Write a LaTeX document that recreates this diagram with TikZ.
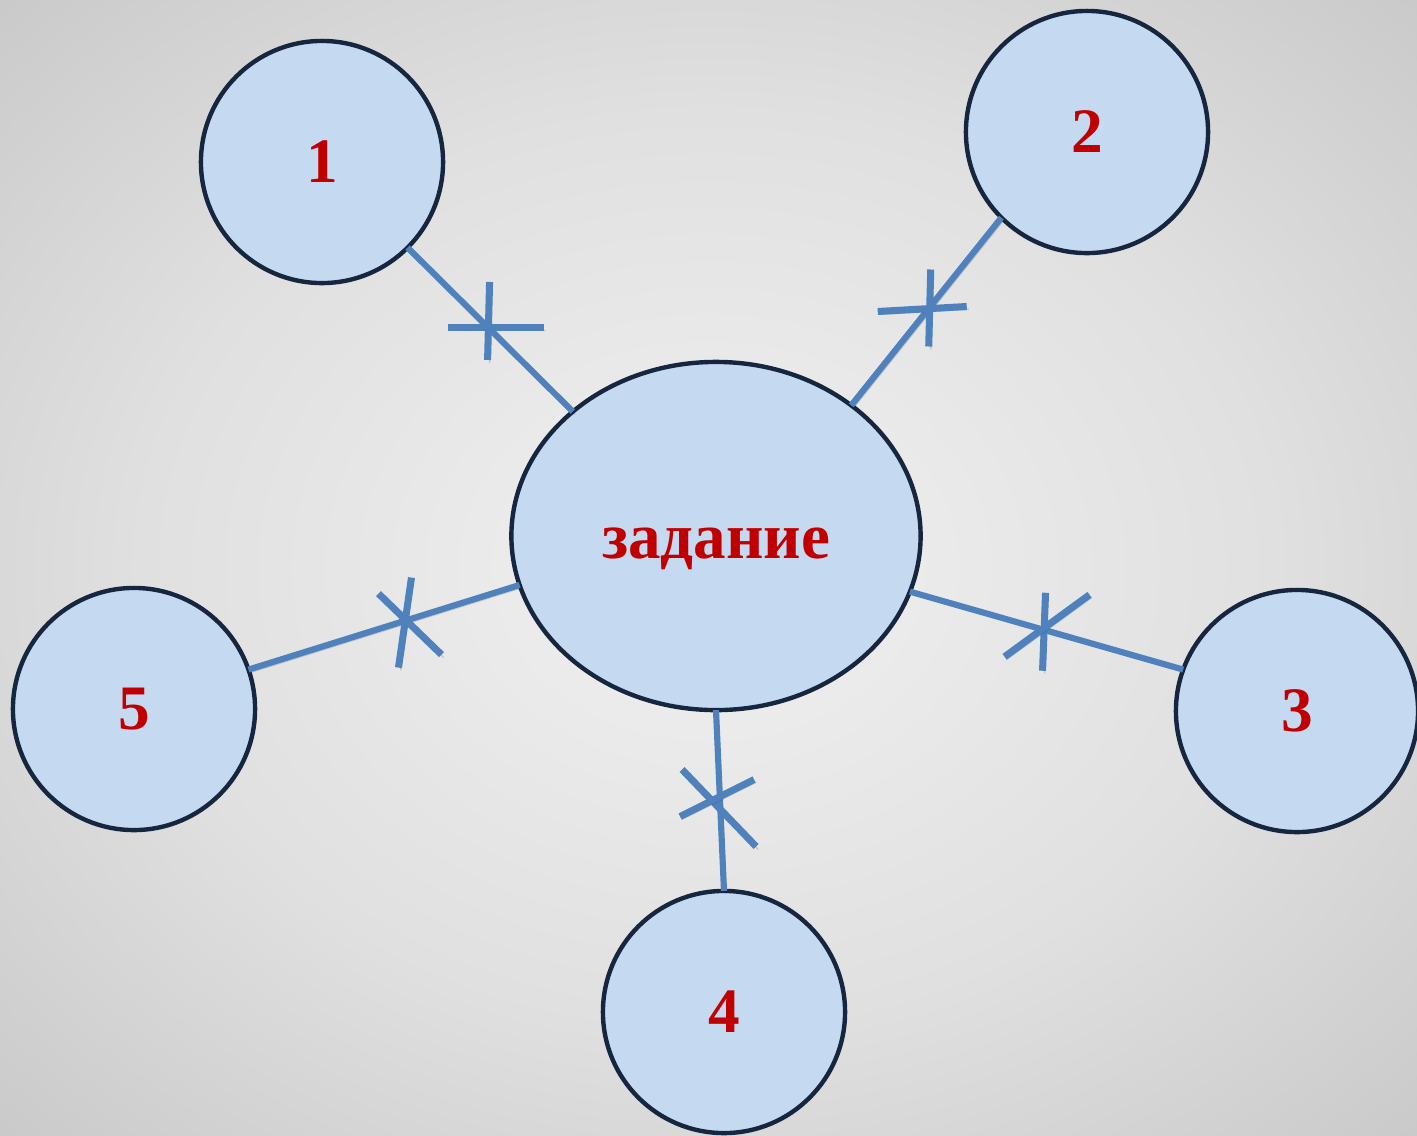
\documentclass[tikz,border=0pt]{standalone}
\usepackage{fontspec}
\setmainfont{Liberation Serif}
\usetikzlibrary{shapes.geometric}
\definecolor{bginner}{HTML}{F1F1F1}
\definecolor{bgmid}{HTML}{E0E0E0}
\definecolor{bgedge}{HTML}{C6C6C6}
\definecolor{bgcorner}{HTML}{B4B4B4}
\definecolor{bubblefill}{HTML}{C5D9F1}
\definecolor{bubbleline}{HTML}{17263F}
\definecolor{linkblue}{HTML}{4F81BD}
\definecolor{labelred}{HTML}{C00000}
\pgfdeclareradialshading{bgglow}{\pgfpoint{0bp}{0bp}}{%
  color(0bp)=(bginner); color(20bp)=(bgmid); color(38bp)=(bgedge); color(50bp)=(bgcorner); color(72bp)=(bgcorner)}

\begin{document}
\begin{tikzpicture}[x=0.01cm,y=-0.01cm,
  bubble/.style={circle,draw=bubbleline,fill=bubblefill,line width=1.25pt,
    minimum size=2.42cm,inner sep=0pt,outer sep=0pt,
    text=labelred,font=\fontsize{18}{20}\selectfont\bfseries},
  task/.style={ellipse,draw=bubbleline,fill=bubblefill,line width=1.25pt,
    minimum width=4.09cm,minimum height=3.48cm,inner sep=0pt,outer sep=0pt,
    text=labelred,font=\fontsize{18.5}{20}\selectfont\bfseries},
  link/.style={draw=linkblue,line width=1.75pt,
    preaction={draw=black,opacity=0.15,transform canvas={xshift=0.6pt,yshift=-0.8pt}}},
  bar/.style={draw=linkblue,line width=2pt,
    preaction={draw=black,opacity=0.15,transform canvas={xshift=0.6pt,yshift=-0.8pt}}}]

  % background
  \shade[shading=bgglow] (0,0) rectangle (1417,1135);
  \useasboundingbox (0,0) rectangle (1417,1135);

  \node[task] (task) at (716,536) {\raisebox{-0.22cm}[0pt][0pt]{задание}};
  \node[bubble] (c1) at (322,162) {1};
  \node[bubble] (c2) at (1087,132) {2};
  \node[bubble] (c3) at (1297,711) {3};
  \node[bubble] (c4) at (724,1012) {4};
  \node[bubble] (c5) at (134,709) {5};

  % links with their cross marks
  \draw[link] (task.139) -- (c1.315) coordinate[pos=0.51] (x1);
  \draw[link] (task.44) -- (c2.225) coordinate[pos=0.516] (x2);
  \draw[link] (task.344) -- (c3.160) coordinate[pos=0.489] (x3);
  \draw[link] (task.270) -- (c4.90) coordinate[pos=0.511] (x4);
  \draw[link] (task.194.5) -- (c5.19) coordinate[pos=0.421] (x5);

  \draw[bar] (x1) ++(-41,0) -- ++(96,0);
  \draw[bar] (x1) ++(1,-46) -- ++(-2,78);
  \draw[bar] (x2) ++(-51,3) -- ++(89,-5);
  \draw[bar] (x2) ++(2,-39) -- ++(-2,77);
  \draw[bar] (x3) ++(2,-37) -- ++(-3,78);
  \draw[bar] (x3) ++(-39,27) -- ++(85,-62);
  \draw[bar] (x4) ++(-38,-33) -- ++(74,77);
  \draw[bar] (x4) ++(-40,14) -- ++(74,-37);
  \draw[bar] (x5) ++(6,-43) -- ++(-13,90);
  \draw[bar] (x5) ++(-27,-27) -- ++(63,61);
\end{tikzpicture}
\end{document}
